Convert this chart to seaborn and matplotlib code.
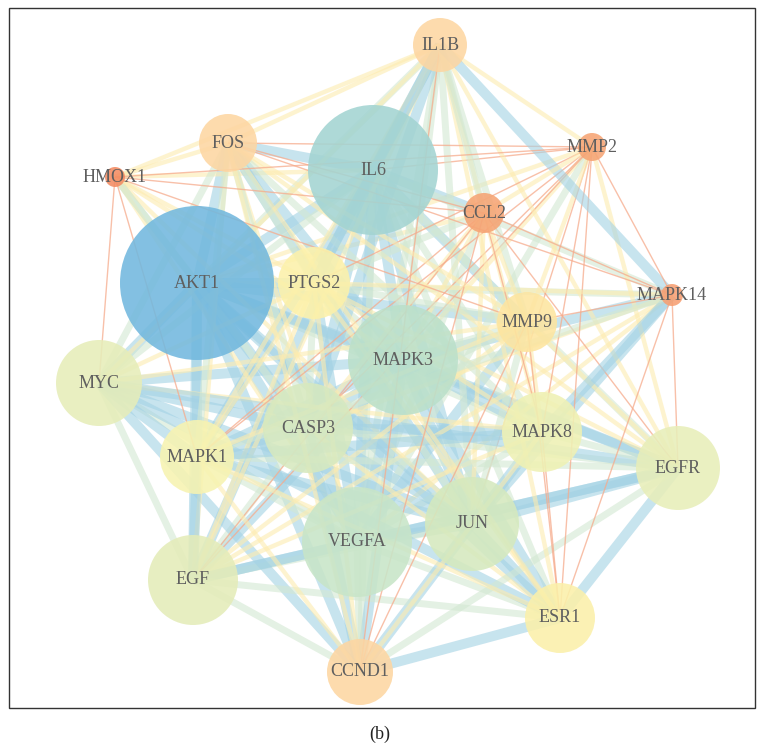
import matplotlib
matplotlib.use("Agg")
import matplotlib.pyplot as plt
import seaborn as sns
import pandas as pd
from matplotlib.patches import Rectangle

# ---- node data (layout position in pixels, radius in pixels, colour) ----
genes = ["IL1B", "FOS", "IL6", "MMP2", "HMOX1", "CCL2", "AKT1", "PTGS2", "MAPK14",
         "MMP9", "MAPK3", "MYC", "CASP3", "MAPK8", "MAPK1", "EGFR", "JUN", "VEGFA",
         "EGF", "ESR1", "CCND1"]
node_x = [440, 228, 373, 592, 115, 484, 197, 314, 672, 527, 403, 99, 308, 542, 197,
          678, 472, 357, 193, 560, 360]
node_y = [45, 143, 170, 147, 177, 213, 283, 283, 295, 322, 360, 383, 428, 432, 457,
          468, 524, 542, 580, 618, 672]
node_r = [27, 29, 65, 14, 10, 20, 77, 36, 11, 30, 55, 43, 45, 40, 37, 42, 47, 55,
          45, 35, 33]
node_color = ["#fdd6a2", "#fdd6a2", "#a3d4d2", "#f6a474", "#f38b62", "#f6a474",
              "#72b8de", "#fcf1aa", "#f69f72", "#fde5a0", "#bbe0ca", "#e6edb9",
              "#d7e9bf", "#eff1b4", "#f7f3b1", "#e8eeb9", "#d5e9be", "#c8e5c8",
              "#e4ecb9", "#fbf0aa", "#fdd6a2"]

# ---- edge data: (gene, gene, score class 1=low .. 4=high) ----
edges = [
    ("AKT1", "IL1B", 3), ("AKT1", "FOS", 4), ("AKT1", "IL6", 4), ("AKT1", "MMP2", 2),
    ("AKT1", "HMOX1", 3), ("AKT1", "CCL2", 2), ("AKT1", "PTGS2", 4), ("AKT1", "MAPK14", 3),
    ("AKT1", "MMP9", 4), ("AKT1", "MAPK3", 4), ("AKT1", "MYC", 4), ("AKT1", "CASP3", 4),
    ("AKT1", "MAPK8", 3), ("AKT1", "MAPK1", 4), ("AKT1", "EGFR", 4), ("AKT1", "JUN", 4),
    ("AKT1", "VEGFA", 4), ("AKT1", "EGF", 4), ("AKT1", "ESR1", 4), ("AKT1", "CCND1", 4),
    ("IL6", "IL1B", 4), ("IL6", "FOS", 4), ("IL6", "MMP2", 1), ("IL6", "HMOX1", 2),
    ("IL6", "CCL2", 4), ("IL6", "PTGS2", 4), ("IL6", "MAPK14", 3), ("IL6", "MMP9", 4),
    ("IL6", "MAPK3", 4), ("IL6", "MYC", 3), ("IL6", "CASP3", 4), ("IL6", "MAPK8", 3),
    ("IL6", "MAPK1", 4), ("IL6", "EGFR", 3), ("IL6", "JUN", 4), ("IL6", "VEGFA", 4),
    ("IL6", "EGF", 4), ("IL6", "ESR1", 3), ("IL6", "CCND1", 3),
    ("MAPK3", "IL1B", 3), ("MAPK3", "FOS", 4), ("MAPK3", "MMP2", 2), ("MAPK3", "HMOX1", 2),
    ("MAPK3", "CCL2", 2), ("MAPK3", "PTGS2", 3), ("MAPK3", "MAPK14", 4), ("MAPK3", "MMP9", 3),
    ("MAPK3", "MYC", 4), ("MAPK3", "CASP3", 4), ("MAPK3", "MAPK8", 4), ("MAPK3", "MAPK1", 4),
    ("MAPK3", "EGFR", 4), ("MAPK3", "JUN", 4), ("MAPK3", "VEGFA", 4), ("MAPK3", "EGF", 4),
    ("MAPK3", "ESR1", 4), ("MAPK3", "CCND1", 4),
    ("VEGFA", "IL1B", 3), ("VEGFA", "FOS", 2), ("VEGFA", "MMP2", 3), ("VEGFA", "HMOX1", 2),
    ("VEGFA", "CCL2", 3), ("VEGFA", "PTGS2", 4), ("VEGFA", "MAPK14", 2), ("VEGFA", "MMP9", 4),
    ("VEGFA", "MYC", 3), ("VEGFA", "CASP3", 4), ("VEGFA", "MAPK8", 3), ("VEGFA", "MAPK1", 3),
    ("VEGFA", "EGFR", 4), ("VEGFA", "JUN", 4), ("VEGFA", "EGF", 4), ("VEGFA", "ESR1", 3),
    ("VEGFA", "CCND1", 3),
    ("JUN", "IL1B", 3), ("JUN", "FOS", 4), ("JUN", "MMP2", 1), ("JUN", "HMOX1", 2),
    ("JUN", "CCL2", 2), ("JUN", "PTGS2", 3), ("JUN", "MAPK14", 4), ("JUN", "MMP9", 3),
    ("JUN", "MYC", 4), ("JUN", "CASP3", 4), ("JUN", "MAPK8", 4), ("JUN", "MAPK1", 4),
    ("JUN", "EGFR", 4), ("JUN", "EGF", 3), ("JUN", "ESR1", 4), ("JUN", "CCND1", 4),
    ("CASP3", "IL1B", 4), ("CASP3", "FOS", 3), ("CASP3", "MMP2", 1), ("CASP3", "HMOX1", 3),
    ("CASP3", "CCL2", 2), ("CASP3", "PTGS2", 3), ("CASP3", "MAPK14", 2), ("CASP3", "MMP9", 3),
    ("CASP3", "MYC", 4), ("CASP3", "MAPK8", 4), ("CASP3", "MAPK1", 4), ("CASP3", "EGFR", 3),
    ("CASP3", "EGF", 3), ("CASP3", "ESR1", 2), ("CASP3", "CCND1", 4),
    ("MYC", "FOS", 3), ("MYC", "HMOX1", 1), ("MYC", "PTGS2", 2), ("MYC", "MMP9", 2),
    ("MYC", "MAPK8", 2), ("MYC", "MAPK1", 4), ("MYC", "EGFR", 4), ("MYC", "EGF", 3),
    ("MYC", "ESR1", 4), ("MYC", "CCND1", 4), ("MYC", "IL1B", 2),
    ("EGF", "IL1B", 2), ("EGF", "FOS", 2), ("EGF", "MMP2", 1), ("EGF", "PTGS2", 2),
    ("EGF", "CCL2", 1), ("EGF", "MMP9", 2), ("EGF", "MAPK14", 2), ("EGF", "MAPK8", 2),
    ("EGF", "MAPK1", 4), ("EGF", "EGFR", 4), ("EGF", "ESR1", 3), ("EGF", "CCND1", 3),
    ("EGFR", "IL1B", 2), ("EGFR", "FOS", 2), ("EGFR", "MMP2", 2), ("EGFR", "CCL2", 1),
    ("EGFR", "PTGS2", 2), ("EGFR", "MAPK14", 1), ("EGFR", "MMP9", 2), ("EGFR", "MAPK8", 3),
    ("EGFR", "MAPK1", 3), ("EGFR", "ESR1", 4), ("EGFR", "CCND1", 3),
    ("MAPK8", "IL1B", 2), ("MAPK8", "FOS", 3), ("MAPK8", "MMP2", 1), ("MAPK8", "CCL2", 1),
    ("MAPK8", "PTGS2", 2), ("MAPK8", "MAPK14", 4), ("MAPK8", "MMP9", 2), ("MAPK8", "MAPK1", 4),
    ("MAPK8", "ESR1", 1), ("MAPK8", "CCND1", 2),
    ("MAPK1", "IL1B", 2), ("MAPK1", "FOS", 3), ("MAPK1", "MMP2", 1), ("MAPK1", "HMOX1", 1),
    ("MAPK1", "CCL2", 1), ("MAPK1", "PTGS2", 2), ("MAPK1", "MAPK14", 3), ("MAPK1", "MMP9", 2),
    ("MAPK1", "ESR1", 2), ("MAPK1", "CCND1", 2),
    ("ESR1", "IL1B", 2), ("ESR1", "FOS", 2), ("ESR1", "MMP2", 1), ("ESR1", "MMP9", 1),
    ("ESR1", "PTGS2", 2), ("ESR1", "CCND1", 4), ("ESR1", "MAPK14", 1),
    ("PTGS2", "IL1B", 4), ("PTGS2", "FOS", 3), ("PTGS2", "HMOX1", 2), ("PTGS2", "CCL2", 3),
    ("PTGS2", "MMP9", 3), ("PTGS2", "MMP2", 1), ("PTGS2", "MAPK14", 2), ("PTGS2", "CCND1", 2),
    ("CCND1", "FOS", 2), ("CCND1", "MMP9", 1), ("CCND1", "IL1B", 1), ("CCND1", "CCL2", 1),
    ("MMP9", "IL1B", 3), ("MMP9", "FOS", 2), ("MMP9", "MMP2", 2), ("MMP9", "CCL2", 2),
    ("MMP9", "MAPK14", 1), ("MMP9", "HMOX1", 1),
    ("FOS", "IL1B", 2), ("FOS", "HMOX1", 2), ("FOS", "CCL2", 1), ("FOS", "MMP2", 1),
    ("FOS", "MAPK14", 1),
    ("IL1B", "CCL2", 3), ("IL1B", "MMP2", 2), ("IL1B", "MAPK14", 4), ("IL1B", "HMOX1", 2),
    ("CCL2", "MMP2", 2), ("CCL2", "HMOX1", 1), ("CCL2", "MAPK14", 1),
    ("MMP2", "MAPK14", 1), ("MMP2", "HMOX1", 1),
]

# edge style per score class
edge_colors = {1: "#f6ab8c", 2: "#fdecb0", 3: "#d3e8d2", 4: "#a3d2e4"}
edge_widths = {1: 1.0, 2: 3.2, 3: 5.0, 4: 7.2}
edge_alpha = {1: 0.75, 2: 0.6, 3: 0.6, 4: 0.6}

nodes = pd.DataFrame({"gene": genes, "x": node_x, "y": node_y, "r": node_r})
pos = {g: (x, y) for g, x, y in zip(genes, node_x, node_y)}

W, H = 757, 748
fig = plt.figure(figsize=(W / 100, H / 100), dpi=100)
ax = fig.add_axes([0, 0, 1, 1])
ax.set_xlim(0, W)
ax.set_ylim(H, 0)
ax.axis("off")

# edges
for a, b, w in edges:
    (x1, y1), (x2, y2) = pos[a], pos[b]
    ax.plot([x1, x2], [y1, y2], color=edge_colors[w], lw=edge_widths[w],
            alpha=edge_alpha[w], solid_capstyle="butt", zorder=1)

# nodes: marker area in points^2 from pixel radius (1 px = 0.72 pt)
nodes["s"] = (2 * nodes["r"] * 0.72) ** 2
smin, smax = nodes["s"].min(), nodes["s"].max()
sns.scatterplot(data=nodes, x="x", y="y", hue="gene",
                palette=dict(zip(genes, node_color)),
                size="s", sizes=(smin, smax), size_norm=(smin, smax),
                linewidth=0, alpha=0.88, legend=False, ax=ax, zorder=3)

for g, x, y in zip(genes, node_x, node_y):
    ax.text(x, y, g, ha="center", va="center", fontsize=13,
            family="Liberation Serif", color="#5f5f5f", zorder=4)

ax.add_patch(Rectangle((9, 8), 746, 700, fill=False, edgecolor="#333333",
                       lw=1.0, zorder=5))
ax.text(380, 734, "(b)", ha="center", va="center", fontsize=13,
        family="Liberation Serif", color="#222222")

fig.savefig("out.png", dpi=100)
